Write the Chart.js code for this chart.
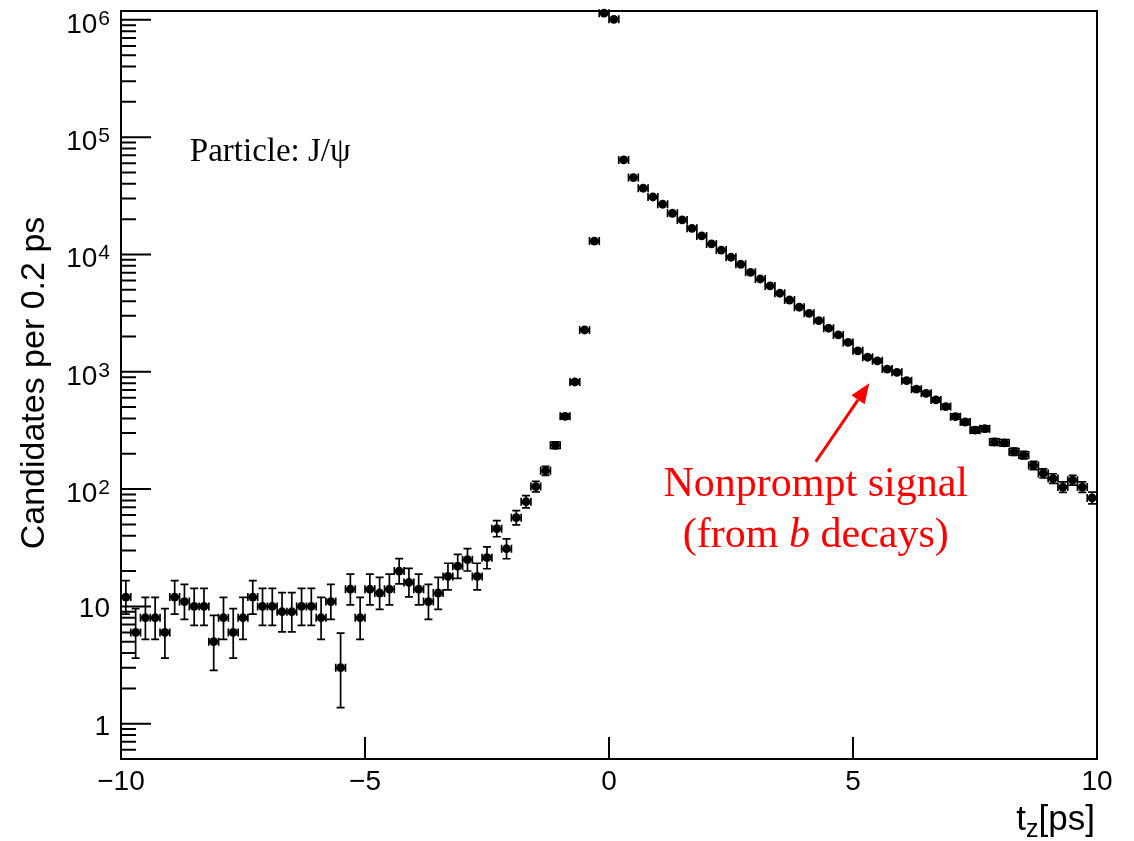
<!DOCTYPE html>
<html>
<head>
<meta charset="utf-8">
<script src="https://cdn.jsdelivr.net/npm/chart.js@4.4.1/dist/chart.umd.min.js"></script>
<style>
  html, body { margin: 0; padding: 0; background: #fff; }
  #wrap { width: 1134px; height: 841px; }
</style>
</head>
<body>
<div id="wrap"><canvas id="tzChart" width="1134" height="841"></canvas></div>
<script>
/* -------------------------------------------------------
   DATA: bin centres of t_z (0.2 ps bins) and candidates per bin
------------------------------------------------------- */
const tz = [
  -9.9, -9.7, -9.5, -9.3, -9.1, -8.9, -8.7, -8.5, -8.3, -8.1,
  -7.9, -7.7, -7.5, -7.3, -7.1, -6.9, -6.7, -6.5, -6.3, -6.1,
  -5.9, -5.7, -5.5, -5.3, -5.1, -4.9, -4.7, -4.5, -4.3, -4.1,
  -3.9, -3.7, -3.5, -3.3, -3.1, -2.9, -2.7, -2.5, -2.3, -2.1,
  -1.9, -1.7, -1.5, -1.3, -1.1, -0.9, -0.7, -0.5, -0.3, -0.1,
  0.1, 0.3, 0.5, 0.7, 0.9, 1.1, 1.3, 1.5, 1.7, 1.9,
  2.1, 2.3, 2.5, 2.7, 2.9, 3.1, 3.3, 3.5, 3.7, 3.9,
  4.1, 4.3, 4.5, 4.7, 4.9, 5.1, 5.3, 5.5, 5.7, 5.9,
  6.1, 6.3, 6.5, 6.7, 6.9, 7.1, 7.3, 7.5, 7.7, 7.9,
  8.1, 8.3, 8.5, 8.7, 8.9, 9.1, 9.3, 9.5, 9.7, 9.9
];

const counts = [
  12, 6, 8, 8, 6, 12, 11, 10, 10, 5,
  8, 6, 8, 12, 10, 10, 9, 9, 10, 10,
  8, 11, 3, 14, 8, 14, 13, 14, 20, 16,
  14, 11, 13, 18, 22, 25, 18, 26, 46, 31,
  57, 78, 105, 143, 236, 417, 818, 2270, 13000, 1140000,
  1010000, 64000, 45200, 36700, 30900, 26800, 22450, 19700, 16700, 14400,
  12300, 10900, 9470, 8250, 7050, 6180, 5390, 4670, 4090, 3550,
  3150, 2730, 2350, 2060, 1780, 1510, 1330, 1240, 1055, 990,
  840, 710, 655, 575, 505, 414, 373, 318, 327, 252,
  248, 208, 195, 159, 136, 123, 104, 119, 104, 84
];

const binHalfWidth = 0.1;

/* axis ticks */
const xTicks = [-10, -5, 0, 5, 10];
const xTickLabels = ["\u221210", "\u22125", "0", "5", "10"];
const yTicks = [1, 10, 100, 1e3, 1e4, 1e5, 1e6];
const yTickLabels = ["1", "10", "10^2", "10^3", "10^4", "10^5", "10^6"];

/* -------------------------------------------------------
   Poisson (Garwood-like) 68% interval, as ROOT draws it
------------------------------------------------------- */
function poissonLow(n) {
  if (n <= 0) return 0;
  return n * Math.pow(1 - 1 / (9 * n) - 1 / (3 * Math.sqrt(n)), 3);
}
function poissonHigh(n) {
  const m = n + 1;
  return m * Math.pow(1 - 1 / (9 * m) + 1 / (3 * Math.sqrt(m)), 3);
}

const SANS = "'Liberation Sans', Arial, sans-serif";
const SERIF = "'Liberation Serif', 'Times New Roman', serif";

/* -------------------------------------------------------
   Error bars (under the markers)
------------------------------------------------------- */
const errorBars = {
  id: "errorBars",
  beforeDatasetsDraw(chart) {
    const { ctx, scales: { x, y } } = chart;
    const cap = 4;
    ctx.save();
    ctx.strokeStyle = "#000";
    ctx.lineWidth = 1.7;
    ctx.beginPath();
    tz.forEach((t, i) => {
      const n = counts[i];
      const px = x.getPixelForValue(t);
      const py = y.getPixelForValue(n);
      const pLo = y.getPixelForValue(poissonLow(n));
      const pHi = y.getPixelForValue(poissonHigh(n));
      const xl = x.getPixelForValue(t - binHalfWidth);
      const xr = x.getPixelForValue(t + binHalfWidth);
      // vertical
      ctx.moveTo(px, pLo); ctx.lineTo(px, pHi);
      ctx.moveTo(px - cap, pLo); ctx.lineTo(px + cap, pLo);
      ctx.moveTo(px - cap, pHi); ctx.lineTo(px + cap, pHi);
      // horizontal
      ctx.moveTo(xl, py); ctx.lineTo(xr, py);
      ctx.moveTo(xl, py - cap); ctx.lineTo(xl, py + cap);
      ctx.moveTo(xr, py - cap); ctx.lineTo(xr, py + cap);
    });
    ctx.stroke();
    ctx.restore();
  },
};

/* -------------------------------------------------------
   Frame, ticks, labels, titles and annotations (ROOT look)
------------------------------------------------------- */
const rootFrame = {
  id: "rootFrame",
  afterDraw(chart) {
    const { ctx, chartArea: a, scales: { x, y } } = chart;
    ctx.save();
    ctx.strokeStyle = "#000";
    ctx.fillStyle = "#000";

    // frame
    ctx.lineWidth = 2;
    ctx.strokeRect(a.left, a.top, a.right - a.left, a.bottom - a.top);

    // x ticks + labels
    ctx.beginPath();
    xTicks.forEach((v) => {
      const px = x.getPixelForValue(v);
      ctx.moveTo(px, a.bottom);
      ctx.lineTo(px, a.bottom - 22);
    });
    ctx.stroke();
    ctx.font = "28px " + SANS;
    ctx.textAlign = "center";
    ctx.textBaseline = "alphabetic";
    xTicks.forEach((v, i) => {
      ctx.fillText(xTickLabels[i], x.getPixelForValue(v), a.bottom + 31);
    });

    // y ticks (major + minor), log scale
    ctx.beginPath();
    const yMin = y.min, yMax = y.max;
    for (let d = -1; d <= 6; d++) {
      for (let k = 1; k <= 9; k++) {
        const v = k * Math.pow(10, d);
        if (v < yMin || v > yMax) continue;
        const py = y.getPixelForValue(v);
        ctx.moveTo(a.left, py);
        ctx.lineTo(a.left + (k === 1 ? 30 : 15), py);
      }
    }
    ctx.stroke();

    // y labels with superscripts
    const labelRight = a.left - 11;
    yTicks.forEach((v, i) => {
      const py = y.getPixelForValue(v);
      const parts = yTickLabels[i].split("^");
      ctx.textAlign = "right";
      if (parts.length === 1) {
        ctx.font = "28px " + SANS;
        ctx.fillText(parts[0], labelRight, py + 11);
      } else {
        ctx.font = "21px " + SANS;
        const ew = ctx.measureText(parts[1]).width;
        ctx.fillText(parts[1], labelRight, py + 5);
        ctx.font = "28px " + SANS;
        ctx.fillText(parts[0], labelRight - ew - 1, py + 13);
      }
    });

    // axis titles
    ctx.font = "34px " + SANS;
    ctx.save();
    ctx.translate(44, (a.top + a.bottom) / 2 - 2);
    ctx.rotate(-Math.PI / 2);
    ctx.textAlign = "center";
    ctx.fillText("Candidates per 0.2 ps", 0, 0);
    ctx.restore();

    // x title t_z[ps], right aligned
    ctx.textAlign = "left";
    ctx.font = "35px " + SANS;
    const tW = ctx.measureText("t").width;
    const rest = "[ps]";
    const rW = ctx.measureText(rest).width;
    ctx.font = "25px " + SANS;
    const zW = ctx.measureText("z").width;
    const xEnd = a.right - 2;
    const xStart = xEnd - (tW + zW + rW);
    const base = a.bottom + 71;
    ctx.font = "35px " + SANS;
    ctx.fillText("t", xStart, base);
    ctx.font = "25px " + SANS;
    ctx.fillText("z", xStart + tW, base + 7);
    ctx.font = "35px " + SANS;
    ctx.fillText(rest, xStart + tW + zW, base);

    // "Particle: J/psi"
    ctx.font = "33px " + SERIF;
    ctx.textAlign = "left";
    ctx.fillText("Particle: J/\u03C8", x.getPixelForValue(-8.59), y.getPixelForValue(62700));

    // red arrow
    ctx.strokeStyle = "#ff0000";
    ctx.fillStyle = "#ff0000";
    const x0 = x.getPixelForValue(4.236), y0 = y.getPixelForValue(171);
    const x1 = x.getPixelForValue(5.334), y1 = y.getPixelForValue(797);
    const ang = Math.atan2(y1 - y0, x1 - x0);
    const hl = 20, hw = 8;
    const bx = x1 - hl * Math.cos(ang), by = y1 - hl * Math.sin(ang);
    ctx.lineWidth = 3;
    ctx.beginPath();
    ctx.moveTo(x0, y0);
    ctx.lineTo(bx, by);
    ctx.stroke();
    ctx.beginPath();
    ctx.moveTo(x1, y1);
    ctx.lineTo(bx + hw * Math.sin(ang), by - hw * Math.cos(ang));
    ctx.lineTo(bx - hw * Math.sin(ang), by + hw * Math.cos(ang));
    ctx.closePath();
    ctx.fill();

    // red annotation text
    const cx = x.getPixelForValue(4.237);
    ctx.font = "42px " + SERIF;
    ctx.textAlign = "center";
    ctx.fillText("Nonprompt signal", cx, y.getPixelForValue(87.1));

    ctx.textAlign = "left";
    const s1 = "(from ", s2 = "b", s3 = " decays)";
    ctx.font = "42px " + SERIF;
    const w1 = ctx.measureText(s1).width, w3 = ctx.measureText(s3).width;
    ctx.font = "italic 42px " + SERIF;
    const w2 = ctx.measureText(s2).width;
    const lx = cx - (w1 + w2 + w3) / 2;
    const ly = y.getPixelForValue(32.2);
    ctx.font = "42px " + SERIF;
    ctx.fillText(s1, lx, ly);
    ctx.font = "italic 42px " + SERIF;
    ctx.fillText(s2, lx + w1, ly);
    ctx.font = "42px " + SERIF;
    ctx.fillText(s3, lx + w1 + w2, ly);

    ctx.restore();
  },
};

/* -------------------------------------------------------
   CHART
------------------------------------------------------- */
new Chart(document.getElementById("tzChart").getContext("2d"), {
  type: "scatter",
  data: {
    datasets: [
      {
        label: "Candidates",
        data: tz.map((t, i) => ({ x: t, y: counts[i] })),
        backgroundColor: "#000",
        borderWidth: 0,
        pointRadius: 4.4,
        pointHoverRadius: 4.4,
        clip: false,
      },
    ],
  },
  options: {
    responsive: false,
    animation: false,
    devicePixelRatio: 1,
    layout: { padding: { left: 121, right: 37, top: 11, bottom: 82 } },
    plugins: { legend: { display: false }, tooltip: { enabled: false } },
    scales: {
      x: { type: "linear", min: -10, max: 10, display: false },
      y: { type: "logarithmic", min: 0.5, max: 1.19e6, display: false },
    },
  },
  plugins: [errorBars, rootFrame],
});
</script>
</body>
</html>
